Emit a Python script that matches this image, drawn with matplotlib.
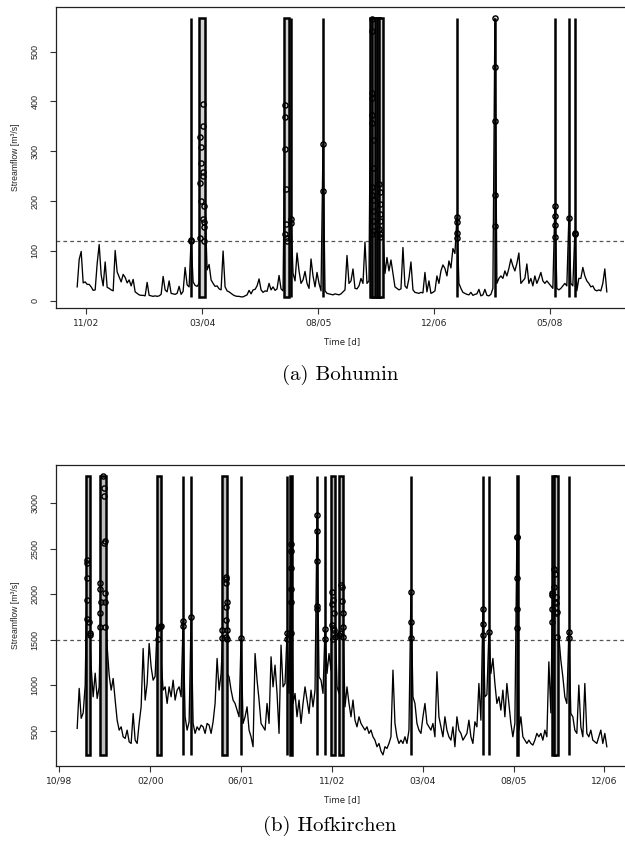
import numpy as np
import pandas as pd
import matplotlib
matplotlib.use('Agg')
import matplotlib.pyplot as plt
import matplotlib.dates as mdates
from matplotlib.patches import Rectangle
from matplotlib import font_manager as fm

# ---------------- data: (a) Bohumin ----------------
bohumin_start = '2002-10-03'
bohumin_step_days = 8.62
bohumin_flow = [
    28, 83, 99, 36, 38, 33, 33, 28, 21, 22,
    75, 113, 52, 30, 78, 27, 25, 22, 20, 101,
    58, 48, 38, 53, 47, 36, 42, 30, 43, 18,
    15, 12, 11, 11, 10, 37, 11, 10, 9, 10,
    9, 10, 13, 49, 22, 18, 40, 15, 14, 13,
    15, 29, 13, 19, 67, 32, 28, 123, 38, 31,
    29, 35, 329, 395, 191, 62, 73, 42, 35, 29,
    30, 24, 22, 100, 28, 20, 18, 15, 12, 10,
    9, 9, 8, 8, 10, 12, 21, 14, 22, 23,
    30, 44, 22, 17, 20, 19, 35, 22, 28, 21,
    24, 51, 24, 20, 393, 225, 130, 165, 55, 40,
    96, 60, 35, 42, 59, 35, 25, 84, 50, 28,
    57, 35, 20, 314, 20, 15, 14, 13, 12, 14,
    13, 12, 14, 18, 22, 91, 35, 40, 64, 25,
    24, 30, 45, 35, 118, 35, 40, 565, 400, 240,
    180, 140, 190, 130, 55, 87, 60, 82, 55, 28,
    25, 22, 24, 107, 30, 25, 45, 78, 22, 17,
    16, 15, 17, 16, 57, 18, 40, 15, 17, 20,
    50, 35, 60, 72, 65, 50, 80, 66, 105, 95,
    168, 35, 25, 17, 15, 13, 12, 17, 11, 13,
    14, 23, 10, 12, 23, 11, 10, 13, 25, 567,
    35, 45, 50, 45, 60, 50, 65, 84, 70, 60,
    75, 96, 35, 40, 45, 74, 35, 45, 30, 50,
    35, 45, 57, 40, 35, 40, 35, 30, 25, 190,
    25, 22, 25, 30, 35, 30, 167, 35, 30, 136,
    20, 45, 45, 67, 50, 40, 35, 28, 30, 22,
    20, 22, 20, 35, 64, 18,
]
bohumin_threshold = 120
bohumin_event_start = [491, 527, 893, 922, 1060, 1264, 1270, 1285, 1293, 1300, 1638, 1802, 2060, 2120, 2146]
bohumin_event_end = [492, 552, 912, 923, 1061, 1276, 1290, 1300, 1306, 1318, 1639, 1804, 2061, 2121, 2147]
bohumin_peak_days = [
    491, 491,
    542, 544, 530, 533, 533, 544, 541, 528, 533, 547, 544, 547, 547, 528, 547,
    898, 898, 898, 901, 901, 898, 901, 903,
    922, 924,
    1060, 1060,
    1271, 1272, 1273, 1271, 1272, 1273, 1274, 1274, 1271, 1273, 1276, 1274, 1275, 1276, 1273,
    1303, 1306, 1304, 1305, 1307, 1303, 1308, 1306,
    1638, 1638, 1638, 1638,
    1802, 1802, 1802, 1802, 1802,
    2060, 2060, 2060, 2060,
    2121,
    2146, 2148,
]
bohumin_peak_flow = [
    123, 121,
    395, 351, 329, 309, 277, 259, 250, 236, 200, 191, 165, 158, 149, 126, 121,
    393, 368, 304, 225, 155, 134, 127, 121,
    165, 156,
    314, 220,
    565, 541, 417, 407, 373, 356, 323, 267, 228, 212, 202, 181, 161, 141, 135,
    235, 218, 195, 175, 161, 145, 135, 128,
    168, 159, 136, 126,
    568, 469, 360, 212, 150,
    190, 170, 153, 128,
    167,
    136, 134,
]
bohumin_yticks = [0, 100, 200, 300, 400, 500]
bohumin_tick_dates = ['2002-11-11', '2004-03-25', '2005-08-07', '2006-12-20', '2008-05-03']

# ---------------- data: (b) Hofkirchen ----------------
hofkirchen_start = '1999-01-09'
hofkirchen_step_days = 11.0
hofkirchen_flow = [
    530, 968, 640, 700, 1000, 2373, 1727, 1200, 876, 1135,
    858, 985, 2124, 3293, 2008, 1423, 1113, 949, 1077, 840,
    620, 511, 547, 438, 420, 511, 383, 365, 693, 401,
    365, 584, 766, 1405, 840, 1022, 1460, 1204, 1058, 1100,
    1650, 1625, 1277, 949, 985, 803, 985, 876, 1058, 840,
    949, 985, 876, 1705, 657, 511, 602, 1752, 584, 475,
    547, 511, 566, 547, 475, 584, 566, 475, 602, 803,
    1296, 949, 1131, 1606, 2190, 1131, 1095, 949, 840, 803,
    730, 657, 1515, 584, 657, 766, 511, 438, 329, 1350,
    1058, 840, 584, 547, 511, 803, 584, 1314, 985, 1223,
    913, 475, 1442, 985, 1022, 1570, 913, 2548, 803, 913,
    657, 840, 584, 803, 985, 840, 693, 949, 766, 949,
    2866, 1095, 1058, 913, 1617, 1131, 1350, 1168, 2019, 1789,
    985, 913, 2099, 1643, 766, 985, 803, 657, 840, 620,
    547, 657, 584, 547, 511, 547, 475, 511, 438, 401,
    329, 365, 280, 240, 329, 310, 365, 438, 1168, 584,
    438, 365, 401, 365, 438, 365, 511, 2026, 876, 803,
    584, 511, 475, 657, 803, 584, 547, 511, 584, 438,
    1150, 657, 547, 438, 657, 511, 438, 401, 547, 329,
    657, 511, 475, 401, 438, 475, 620, 438, 365, 602,
    547, 1022, 620, 1836, 876, 900, 1581, 1131, 1296, 1022,
    803, 876, 730, 949, 657, 1022, 803, 584, 438, 584,
    2629, 511, 657, 438, 401, 365, 401, 365, 347, 401,
    475, 438, 475, 401, 511, 438, 1259, 700, 2274, 2015,
    1700, 1533, 1277, 1095, 876, 803, 1581, 693, 657, 511,
    475, 1004, 547, 438, 1022, 475, 438, 511, 401, 383,
    365, 438, 511, 365, 475, 329,
]
hofkirchen_threshold = 1500
hofkirchen_event_start = [50, 126, 440, 583, 627, 796, 902, 1155, 1169, 1320, 1364, 1397, 1443, 1837, 2233, 2266, 2418, 2613, 2622, 2706]
hofkirchen_event_end = [69, 156, 459, 584, 628, 825, 903, 1156, 1183, 1321, 1365, 1419, 1465, 1838, 2234, 2267, 2425, 2632, 2646, 2707]
hofkirchen_peak_days = [
    52, 55, 55, 52, 55, 66, 69, 69,
    126, 126, 129, 128, 126, 143, 148, 146, 151, 148, 154, 151, 154,
    443, 443, 459, 456,
    583, 583,
    627,
    797, 797, 817, 820, 817, 822, 817, 820, 822, 820, 822,
    902,
    1155, 1155,
    1177, 1177, 1177, 1177, 1177, 1177,
    1320, 1320, 1320, 1320, 1320,
    1364, 1364,
    1402, 1408, 1402, 1413, 1400, 1408, 1413, 1419, 1408,
    1452, 1457, 1457, 1463, 1463, 1446, 1463, 1443,
    1837, 1837, 1837,
    2233, 2233, 2233,
    2266,
    2420, 2422, 2420, 2420, 2420,
    2614, 2614, 2614, 2614, 2623, 2629, 2626, 2634, 2629, 2634, 2640, 2634, 2640,
    2706, 2706,
]
hofkirchen_peak_flow = [
    2373, 2337, 2180, 1935, 1727, 1700, 1570, 1553,
    2124, 2055, 1916, 1789, 1642, 3293, 3158, 3077, 2584, 2557, 2008, 1916, 1642,
    1625, 1504, 1650, 1640,
    1705, 1655,
    1749,
    1606, 1515, 2190, 2165, 2124, 1916, 1862, 1716, 1606, 1526, 1504,
    1515,
    1570, 1504,
    2548, 2475, 2289, 2055, 1909, 1577,
    2866, 2694, 2365, 1872, 1840,
    1617, 1504,
    2019, 1935, 1891, 1789, 1661, 1625, 1606, 1526, 1504,
    2099, 2081, 1924, 1796, 1643, 1570, 1526, 1552,
    2026, 1698, 1522,
    1836, 1672, 1552,
    1581,
    2629, 2621, 2180, 1836, 1628,
    2015, 1990, 1836, 1698, 2274, 2216, 2081, 1972, 1917, 1898, 1807, 1789, 1534,
    1581, 1515,
]
hofkirchen_yticks = [500, 1000, 1500, 2000, 2500, 3000]
hofkirchen_tick_dates = ['1998-10-03', '2000-02-15', '2001-06-29', '2002-11-11',
                         '2004-03-25', '2005-08-07', '2006-12-20']

y_label = 'Streamflow [m³/s]'
x_label = 'Time [d]'
captions = ['(a) Bohumin', '(b) Hofkirchen']


# ---------------- fonts ----------------
def pick_font(cands, default='DejaVu Sans'):
    for f in cands:
        try:
            fm.findfont(fm.FontProperties(family=f), fallback_to_default=False)
            return f
        except Exception:
            continue
    return default


narrow = pick_font(['Liberation Sans Narrow', 'Arial Narrow', 'Liberation Sans'])
serif = pick_font(['cmr10', 'Latin Modern Roman', 'DejaVu Serif'])

W, H = 625, 851
fig = plt.figure(figsize=(W / 100, H / 100), dpi=100)


def px_axes(l, t, r, b):
    return fig.add_axes([l / W, 1 - b / H, (r - l) / W, (b - t) / H])


def panel(ax, start, step, values, ev_s, ev_e, pk_d, pk_v, thr, yticks, tick_dates, fill):
    t0 = mdates.date2num(np.datetime64(start))
    v = np.asarray(values, float)
    x = t0 + np.arange(len(v)) * step
    vmin, vmax = v.min(), v.max()
    xr = x[-1] - x[0]
    yr = vmax - vmin
    ax.set_xlim(x[0] - 0.04 * xr, x[-1] + 0.04 * xr)
    ax.set_ylim(vmin - 0.04 * yr, vmax + 0.04 * yr)
    ax.axhline(thr, color='#555555', lw=0.9, dashes=(3, 2.5), zorder=1)
    ax.plot(x, v, color='black', lw=0.95, zorder=2)
    for s, e in zip(ev_s, ev_e):
        ax.add_patch(Rectangle((t0 + s, vmin), e - s, vmax - vmin, facecolor=fill,
                               edgecolor='black', lw=1.8, zorder=3))
    ax.plot(t0 + np.asarray(pk_d, float), pk_v, 'o', mfc='none', mec='black',
            ms=3.7, mew=1.05, zorder=4, clip_on=False)
    ax.set_yticks(yticks)
    ax.set_yticklabels([str(t) for t in yticks], rotation=90, va='center',
                       fontsize=6.5, family=narrow, color='#222222')
    td = [pd.Timestamp(d) for d in tick_dates]
    ax.set_xticks(mdates.date2num(td))
    ax.set_xticklabels([d.strftime('%m/%y') for d in td], fontsize=6.6,
                       family='DejaVu Sans', color='#222222')
    ax.tick_params(axis='y', length=4.5, width=0.8, pad=7.5, color='#333333')
    ax.tick_params(axis='x', length=4.5, width=0.8, pad=3.2, color='#333333')
    for sp in ax.spines.values():
        sp.set_linewidth(0.9)
        sp.set_color('#222222')


ax1 = px_axes(56, 7, 628, 308)
panel(ax1, bohumin_start, bohumin_step_days, bohumin_flow,
      bohumin_event_start, bohumin_event_end, bohumin_peak_days, bohumin_peak_flow,
      bohumin_threshold, bohumin_yticks, bohumin_tick_dates, '#d3d3d3')

ax2 = px_axes(56, 465, 628, 766)
panel(ax2, hofkirchen_start, hofkirchen_step_days, hofkirchen_flow,
      hofkirchen_event_start, hofkirchen_event_end, hofkirchen_peak_days, hofkirchen_peak_flow,
      hofkirchen_threshold, hofkirchen_yticks, hofkirchen_tick_dates, '#bdbdbd')

# axis titles
for yc in (157.5, 615.5):
    fig.text(15 / W, 1 - yc / H, y_label, rotation=90, ha='center', va='center',
             fontsize=6.2, family=narrow, color='#222222')
for yc in (342, 800):
    fig.text(342 / W, 1 - yc / H, x_label, ha='center', va='center',
             fontsize=6.2, family='DejaVu Sans', color='#222222')

# captions
fig.text(340 / W, 1 - 375 / H, captions[0], ha='center', va='center', fontsize=15, family=serif)
fig.text(330 / W, 1 - 826 / H, captions[1], ha='center', va='center', fontsize=15, family=serif)

fig.savefig('out.png', dpi=100)
